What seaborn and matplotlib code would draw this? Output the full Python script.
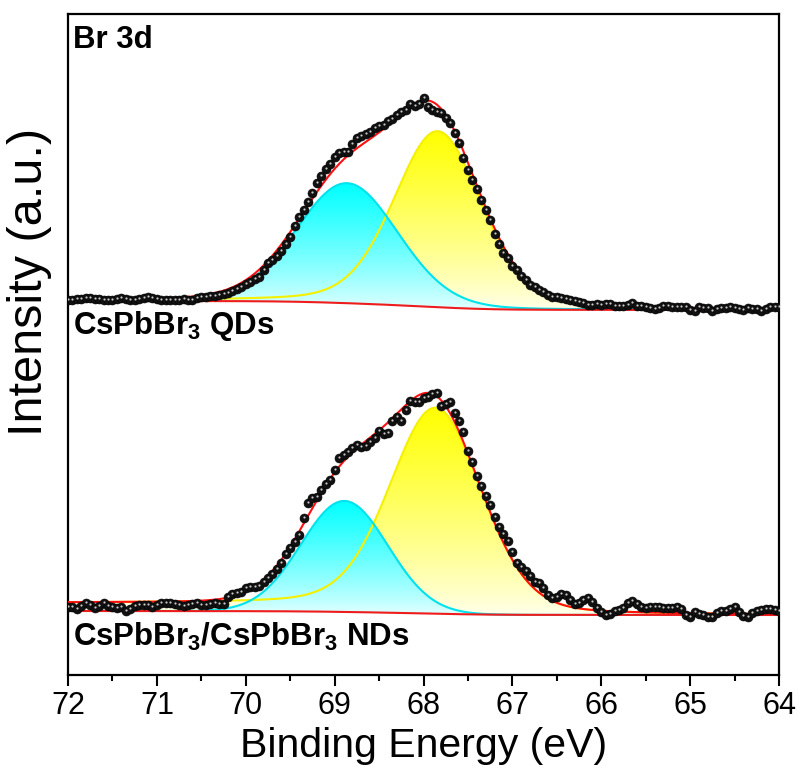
import numpy as np
import matplotlib
matplotlib.use("Agg")
import matplotlib.pyplot as plt
import seaborn as sns
from matplotlib.patches import Polygon
from matplotlib.transforms import ScaledTranslation
from matplotlib.ticker import MultipleLocator

# ---------------- data ----------------
energy = np.round(np.arange(72.0, 63.974, -0.05), 2)   # binding energy, eV (161 pts)

qds_counts = [
    375, 375, 376, 376, 377, 377, 376, 376, 375, 375,
    375, 376, 377, 376, 375, 375, 376, 377, 378, 377,
    376, 375, 375, 375, 375, 375, 376, 375, 375, 377,
    378, 378, 379, 379, 380, 381, 382, 384, 386, 388,
    391, 393, 396, 398, 405, 412, 415, 419, 424, 431,
    438, 449, 458, 465, 473, 482, 492, 499, 506, 511,
    518, 522, 523, 523, 531, 537, 539, 541, 543, 547,
    549, 550, 554, 556, 560, 563, 565, 571, 569, 571,
    577, 568, 565, 563, 562, 557, 552, 542, 532, 517,
    505, 495, 486, 475, 465, 455, 441, 431, 422, 417,
    409, 405, 399, 395, 390, 388, 385, 383, 380, 378,
    378, 377, 376, 375, 374, 373, 372, 370, 370, 371,
    370, 371, 371, 369, 369, 369, 370, 372, 369, 369,
    368, 367, 366, 367, 369, 369, 368, 368, 368, 368,
    365, 364, 368, 367, 367, 364, 366, 367, 367, 368,
    367, 366, 365, 367, 366, 366, 364, 366, 368, 368,
    368,
]

nds_counts = [
    68, 68, 66, 69, 72, 70, 67, 69, 72, 69,
    68, 67, 68, 64, 66, 69, 70, 70, 70, 68,
    70, 72, 72, 72, 71, 70, 69, 70, 71, 72,
    70, 70, 71, 72, 71, 71, 78, 81, 82, 83,
    87, 88, 88, 89, 93, 97, 101, 106, 112, 121,
    127, 133, 140, 157, 172, 177, 178, 185, 191, 195,
    205, 217, 220, 223, 227, 230, 228, 229, 233, 237,
    244, 241, 242, 254, 258, 254, 265, 274, 273, 273,
    277, 278, 281, 282, 269, 271, 273, 262, 254, 243,
    224, 213, 199, 189, 179, 170, 158, 148, 141, 134,
    123, 112, 108, 104, 99, 93, 92, 87, 80, 77,
    78, 81, 80, 75, 71, 72, 75, 77, 73, 67,
    63, 60, 61, 64, 65, 67, 72, 74, 71, 68,
    67, 68, 68, 68, 67, 67, 67, 68, 66, 60,
    58, 63, 61, 60, 58, 58, 62, 64, 64, 66,
    68, 63, 59, 58, 62, 64, 65, 66, 66, 65,
    64,
]

# fitted components [cyan (higher BE), yellow (lower BE)]
qds_centers = [68.86, 67.84]
qds_heights = [120, 176]
qds_fwhm = [1.35, 1.17]
qds_eta = [0.10, 0.25]          # Lorentzian fraction
qds_steps = [0, 0]              # component step (high-BE pedestal)
qds_background = [374, 365]     # Shirley: high-BE level, low-BE level

nds_centers = [68.89, 67.86]
nds_heights = [111, 202]
nds_fwhm = [1.15, 1.22]
nds_eta = [0.0, 0.20]
nds_steps = [0, 8]
nds_background = [64, 60]

spectrum_labels = [r"CsPbBr$_\mathbf{3}$ QDs", r"CsPbBr$_\mathbf{3}$/CsPbBr$_\mathbf{3}$ NDs"]
panel_title = "Br 3d"

# ---------------- styling ----------------
sns.set_style("white")
plt.rcParams["font.family"] = ["Liberation Sans", "DejaVu Sans"]
plt.rcParams["mathtext.fontset"] = "custom"
plt.rcParams["mathtext.bf"] = "Liberation Sans:bold"
plt.rcParams["mathtext.rm"] = "Liberation Sans"
plt.rcParams["text.color"] = "black"
plt.rcParams["axes.labelcolor"] = "black"
plt.rcParams["xtick.color"] = "black"
plt.rcParams["ytick.color"] = "black"

fill_top = {0: np.array([0, 255, 255]) / 255, 1: np.array([255, 255, 0]) / 255}
fill_bottom = {0: np.array([230, 255, 255]) / 255, 1: np.array([255, 255, 236]) / 255}
edge_col = {0: "#00e2ec", 1: "#f4f000"}


def pseudo_voigt(x, c, h, w, eta):
    g = np.exp(-4 * np.log(2) * ((x - c) / w) ** 2)
    lo = 1.0 / (1.0 + 4 * ((x - c) / w) ** 2)
    return h * ((1 - eta) * g + eta * lo)


def cumulative_fraction(y):
    area = np.cumsum(y[::-1])[::-1]
    return area / area[0]


fig = plt.figure(figsize=(8.0, 7.73), dpi=100)
ax = fig.add_axes([0.085, 0.1268, 0.88875, 0.8551])

xf = np.linspace(72.0, 64.0, 1601)
grad_t = np.linspace(0, 1, 256) ** 0.85

spectra = [
    (qds_counts, qds_centers, qds_heights, qds_fwhm, qds_eta, qds_steps, qds_background),
    (nds_counts, nds_centers, nds_heights, nds_fwhm, nds_eta, nds_steps, nds_background),
]

for counts, cen, hgt, fw, et, st, bgp in spectra:
    comps = []
    for c, h, w, e, s in zip(cen, hgt, fw, et, st):
        pv = pseudo_voigt(xf, c, h, w, e)
        comps.append(pv + s * cumulative_fraction(pv))
    total = comps[0] + comps[1]
    bg = bgp[1] + (bgp[0] - bgp[1]) * cumulative_fraction(total)
    for idx in [1, 0]:
        top = bg + comps[idx]
        verts = np.column_stack([np.r_[xf, xf[::-1]], np.r_[top, bg[::-1]]])
        poly = Polygon(verts, closed=True, facecolor="none", edgecolor="none")
        ax.add_patch(poly)
        img = np.zeros((256, 1, 4))
        img[:, 0, :3] = fill_bottom[idx] + (fill_top[idx] - fill_bottom[idx]) * grad_t[:, None]
        img[:, 0, 3] = 1.0
        im = ax.imshow(img, extent=[72, 64, bg.min(), top.max()], origin="lower",
                       aspect="auto", interpolation="bilinear", zorder=2)
        im.set_clip_path(poly)
        ax.plot(xf, top, color=edge_col[idx], lw=1.5, zorder=3)
    sns.lineplot(x=xf, y=bg, color="#ee1c1c", lw=1.5, ax=ax, zorder=4)
    sns.lineplot(x=xf, y=bg + total, color="#ff1010", lw=1.5, ax=ax, zorder=4)
    sns.scatterplot(x=energy, y=counts, color="#111111", s=42, edgecolor="#000000",
                    linewidth=0.4, ax=ax, zorder=5)
    hl = ax.transData + ScaledTranslation(0, 0.6 / 72, fig.dpi_scale_trans)
    ax.scatter(energy, counts, s=2.5, color="#c8c8c8", linewidths=0, transform=hl, zorder=6)

ax.set_xlim(72, 64)
ax.set_ylim(0, 661)
ax.xaxis.set_major_locator(MultipleLocator(1))
ax.xaxis.set_minor_locator(MultipleLocator(0.5))
ax.set_yticks([])
ax.tick_params(axis="x", which="major", direction="out", length=8, width=1.5,
               labelsize=22, pad=3.5, bottom=True, top=False)
ax.tick_params(axis="x", which="minor", direction="out", length=4.5, width=1.5,
               bottom=True, top=False)
for s in ax.spines.values():
    s.set_color("black")
    s.set_linewidth(1.6)

ax.set_xlabel("Binding Energy (eV)", fontsize=29.5, labelpad=4)
ax.set_ylabel("Intensity (a.u.)", fontsize=35)
ax.yaxis.set_label_coords(-0.022, 0.595)

ax.text(0.007, 0.961, panel_title, transform=ax.transAxes, fontsize=22.5,
        fontweight="bold", ha="left", va="center")
ax.text(0.007, 0.528, spectrum_labels[0], transform=ax.transAxes, fontsize=22.5,
        fontweight="bold", ha="left", va="center")
ax.text(0.007, 0.058, spectrum_labels[1], transform=ax.transAxes, fontsize=22.5,
        fontweight="bold", ha="left", va="center")

fig.savefig("out.png", dpi=100)
